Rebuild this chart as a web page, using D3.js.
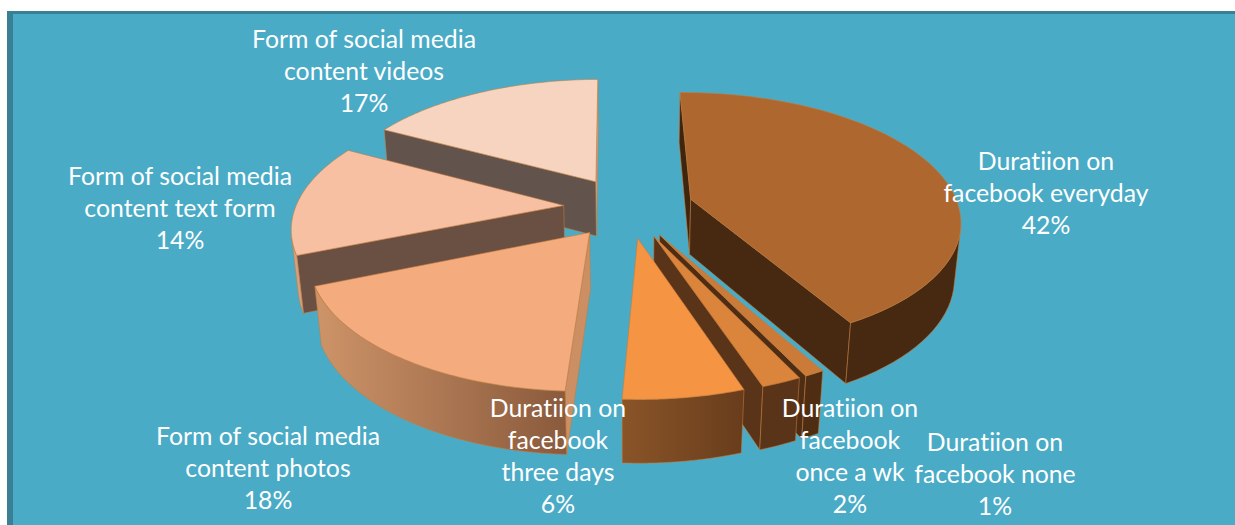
<!DOCTYPE html>
<html>
<head>
<meta charset="utf-8">
<script src="https://cdn.jsdelivr.net/npm/d3@7"></script>
<style>html,body{margin:0;padding:0;background:#fff;overflow:hidden}svg{display:block}</style>
</head>
<body>
<svg id="chart" width="1235" height="525"></svg>
<script>
// Share of each answer, clockwise from the top of the pie.
const categories = [
  "Duratiion on facebook everyday",
  "Duratiion on facebook none",
  "Duratiion on facebook once a wk",
  "Duratiion on facebook three days",
  "Form of social media content photos",
  "Form of social media content text form",
  "Form of social media content videos"
];
const shares = [42, 1, 2, 6, 18, 14, 17];
const labelLines = [
  ["Duratiion on", "facebook everyday"],
  ["Duratiion on", "facebook none"],
  ["Duratiion on", "facebook", "once a wk"],
  ["Duratiion on", "facebook", "three days"],
  ["Form of social media", "content photos"],
  ["Form of social media", "content text form"],
  ["Form of social media", "content videos"]
];

// Slice fills: lid, the two cut faces, then the curved wall from left to right.
const lidColors   = ["#AE672F", "#CB7A37", "#DB843B", "#F59443", "#F4AB7E", "#F7C0A2", "#F6D4C0"];
const startFace   = ["#3F240E", "#472810", "#4F2D14", "#5A3418", "#CC8F64", "#6A4F43", "#62544C"];
const endFace     = ["#472810", "#4F2D13", "#5A3418", "#6A3E1C", "#8A5A3C", "#D3A184", "#D0A78E"];
const wallLeft    = ["#472810", "#4F2D13", "#5A3418", "#8A5428", "#CE9469", "#D3A184", "#D0A78E"];
const wallRight   = ["#472810", "#4F2D13", "#5A3418", "#683D1C", "#8A5A3C", "#D3A184", "#D0A78E"];
const edgeColor = "#C67C3C";

// Where the centre of each label block sits on the page.
const labelCenters = [[1046, 193.5], [995, 474.5], [850, 456.5], [558, 456.5], [268, 468.5], [180, 208.5], [364, 71.5]];
const lineHeight = 32.2;

// Pie solid and camera.
const radius = 268, explode = 65, thickness = 64;
const rotation = -0.6 * Math.PI / 180;
const elevation = 27.9 * Math.PI / 180;
const cameraDistance = 1533;
const center = [628.5, 207];

const svg = d3.select("#chart");
const defs = svg.append("defs");

// Panel with its darker top and left border.
svg.append("rect").attr("x", 7).attr("y", 11).attr("width", 1228).attr("height", 514).attr("fill", "#3A8095");
svg.append("rect").attr("x", 13).attr("y", 14).attr("width", 1222).attr("height", 511).attr("fill", "#4AABC6");

function project(x, y, z) {
  const depth = cameraDistance + y * Math.cos(elevation) - z * Math.sin(elevation);
  const s = cameraDistance / depth;
  return [
    center[0] + x * s,
    center[1] - (y * Math.sin(elevation) + z * Math.cos(elevation)) * s
  ];
}

const arcs = d3.pie().sort(null)
  .startAngle(rotation).endAngle(rotation + 2 * Math.PI)(shares);

const line = d3.line().curve(d3.curveLinearClosed);

function sliceGeometry(a) {
  const mid = (a.startAngle + a.endAngle) / 2;
  const ox = explode * Math.sin(mid), oy = explode * Math.cos(mid);
  const rim = d3.range(0, 61).map(i => a.startAngle + (a.endAngle - a.startAngle) * i / 60);
  const at = (t, r, z) => project(ox + r * Math.sin(t), oy + r * Math.cos(t), z);
  return {
    mid, oy,
    lid: [project(ox, oy, 0), ...rim.map(t => at(t, radius, 0))],
    // Wound the same way round the solid as the lid, so the area sign tells which way each faces.
    startFace: [at(a.startAngle, radius, 0), project(ox, oy, 0), project(ox, oy, -thickness), at(a.startAngle, radius, -thickness)],
    endFace: [project(ox, oy, 0), at(a.endAngle, radius, 0), at(a.endAngle, radius, -thickness), project(ox, oy, -thickness)],
    rim, at
  };
}

const slices = arcs.map((a, i) => ({ a, i, g: sliceGeometry(a) }));

// Far slices first so nearer ones paint over them.
const drawOrder = [6, 5, 0, 1, 2, 4, 3];

const face = (parent, pts, fill) => parent.append("path")
  .attr("d", line(pts))
  .attr("fill", fill)
  .attr("stroke", edgeColor)
  .attr("stroke-width", 0.7)
  .attr("stroke-opacity", 0.8)
  .attr("stroke-linejoin", "round");

drawOrder.forEach(idx => {
  const { a, i, g } = slices[idx];
  const group = svg.append("g").attr("class", "slice").attr("data-name", categories[i]);
  const lidOrientation = Math.sign(d3.polygonArea(g.lid));

  // Keep only the faces turned toward the camera.
  if (d3.polygonArea(g.startFace) * lidOrientation > 0) face(group, g.startFace, startFace[i]);
  if (d3.polygonArea(g.endFace) * lidOrientation > 0) face(group, g.endFace, endFace[i]);

  // Outer wall: the run of rim segments facing the camera, as one shape.
  const visible = g.rim.filter((t, k) => {
    if (k === g.rim.length - 1) return false;
    const t2 = g.rim[k + 1];
    const quad = [g.at(t, radius, 0), g.at(t, radius, -thickness), g.at(t2, radius, -thickness), g.at(t2, radius, 0)];
    return d3.polygonArea(quad) * lidOrientation > 0;
  });
  if (visible.length) {
    const last = g.rim[g.rim.indexOf(visible[visible.length - 1]) + 1];
    const ts = [...visible, last];
    const pts = [...ts.map(t => g.at(t, radius, 0)), ...ts.slice().reverse().map(t => g.at(t, radius, -thickness))];
    const id = "wall" + i;
    const xs = d3.extent(pts, p => p[0]);
    const grad = defs.append("linearGradient").attr("id", id)
      .attr("gradientUnits", "userSpaceOnUse")
      .attr("x1", xs[0]).attr("x2", xs[1]).attr("y1", 0).attr("y2", 0);
    grad.append("stop").attr("offset", 0).attr("stop-color", wallLeft[i]);
    grad.append("stop").attr("offset", 1).attr("stop-color", wallRight[i]);
    face(group, pts, `url(#${id})`);
  }
  face(group, g.lid, lidColors[i]);
});

// Data labels: wrapped name with the share as the last line.
shares.forEach((v, i) => {
  const lines = [...labelLines[i], v + "%"];
  const text = svg.append("text")
    .attr("text-anchor", "middle")
    .attr("fill", "#FFFFFF")
    .attr("font-family", "Lato, Carlito, sans-serif")
    .attr("font-size", 24.8)
    .style("font-variant-ligatures", "none");
  const [cx, cy] = labelCenters[i];
  lines.forEach((l, k) => {
    text.append("tspan")
      .attr("x", cx)
      .attr("y", cy + (k - (lines.length - 1) / 2) * lineHeight)
      .attr("dy", "0.35em")
      .text(l);
  });
});
</script>
</body>
</html>
